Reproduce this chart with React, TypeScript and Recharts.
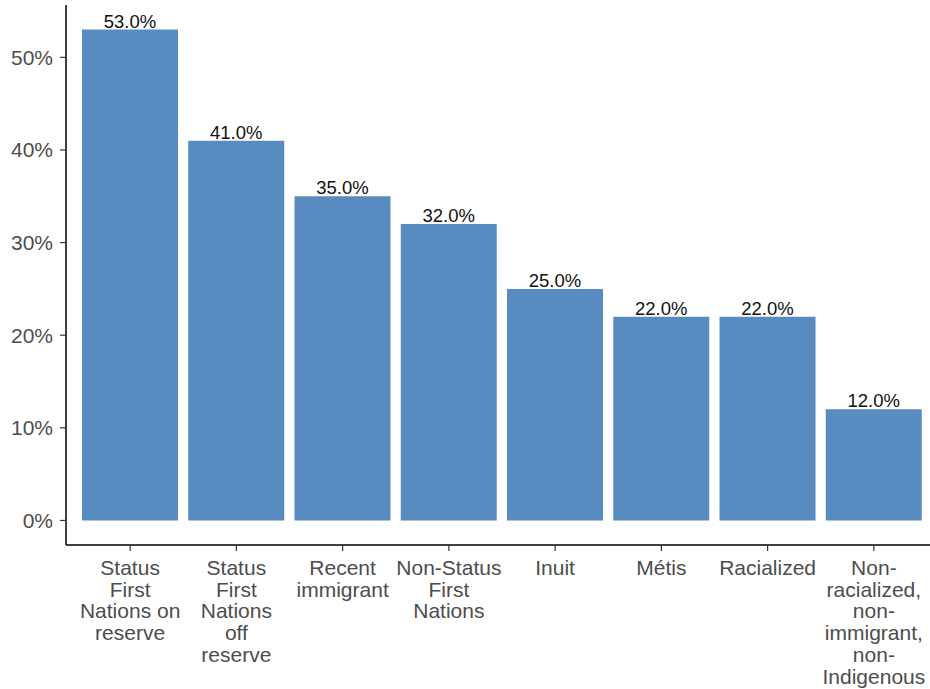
import { Bar, BarChart, LabelList, XAxis, YAxis } from "recharts";

const categories = [
  "Status First Nations on reserve",
  "Status First Nations off reserve",
  "Recent immigrant",
  "Non-Status First Nations",
  "Inuit",
  "Métis",
  "Racialized",
  "Non-racialized, non-immigrant, non-Indigenous",
];

// wrapped the same way as the original axis labels
const tickLines = [
  ["Status", "First", "Nations on", "reserve"],
  ["Status", "First", "Nations", "off", "reserve"],
  ["Recent", "immigrant"],
  ["Non-Status", "First", "Nations"],
  ["Inuit"],
  ["Métis"],
  ["Racialized"],
  ["Non-", "racialized,", "non-", "immigrant,", "non-", "Indigenous"],
];

const shares = [53, 41, 35, 32, 25, 22, 22, 12];

const yTicks = [0, 10, 20, 30, 40, 50];

const data = categories.map((name, i) => ({ name, value: shares[i] }));

const font = '"Liberation Sans", Arial, sans-serif';

function CategoryTick(props: any) {
  const { x, y, payload } = props;
  const lines = tickLines[categories.indexOf(payload.value)] ?? [payload.value];
  return (
    <text
      x={x}
      y={y}
      textAnchor="middle"
      fill="#4d4d4d"
      fontSize={21}
      fontFamily={font}
    >
      {lines.map((line, i) => (
        <tspan key={i} x={x} dy={i === 0 ? 22 : 21.7}>
          {line}
        </tspan>
      ))}
    </text>
  );
}

export default function App() {
  return (
    <div
      style={{
        position: "absolute",
        top: 0,
        left: 0,
        width: 930,
        height: 689,
        overflow: "hidden",
        background: "#fff",
      }}
    >
      <BarChart
        width={938}
        height={689}
        data={data}
        margin={{ top: 5, right: 0, bottom: 0, left: 0 }}
        style={{ fontFamily: font }}
      >
        <XAxis
          dataKey="name"
          interval={0}
          height={144}
          padding={{ left: 11, right: 11 }}
          tickSize={6}
          tickMargin={2}
          axisLine={{ stroke: "#000", strokeWidth: 1.5 }}
          tickLine={{ stroke: "#333", strokeWidth: 1.2 }}
          tick={<CategoryTick />}
        />
        <YAxis
          width={66}
          domain={[-2.65, 55.65]}
          ticks={yTicks}
          allowDataOverflow
          tickSize={6}
          tickMargin={7}
          tickFormatter={(v) => `${v}%`}
          axisLine={{ stroke: "#000", strokeWidth: 1.5 }}
          tickLine={{ stroke: "#333", strokeWidth: 1.2 }}
          tick={{ fill: "#4d4d4d", fontSize: 21, fontFamily: font }}
        />
        <Bar dataKey="value" fill="#588bc0" barSize={96} isAnimationActive={false}>
          <LabelList
            dataKey="value"
            position="top"
            offset={2}
            formatter={(v: any) => `${Number(v).toFixed(1)}%`}
            fill="#111"
            fontSize={18.5}
            fontFamily={font}
          />
        </Bar>
      </BarChart>
    </div>
  );
}
